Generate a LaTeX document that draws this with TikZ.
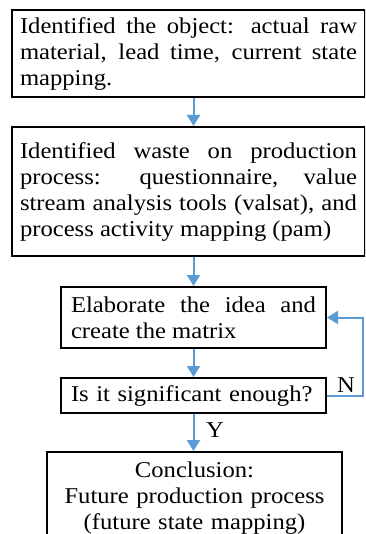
\documentclass[tikz,border=0pt]{standalone}
\usepackage{fontspec}
\setmainfont{Liberation Serif}[FakeStretch=1.09]
\usetikzlibrary{arrows.meta}
\definecolor{arrowblue}{HTML}{5B9BD5}
\begin{document}
\begin{tikzpicture}[x=1pt,y=-1pt,
  box/.style={draw=black, line width=2pt, inner ysep=0pt, font=\fontsize{22.6}{26}\selectfont},
  arr/.style={draw=arrowblue, line width=2pt, -{Triangle[width=13pt,length=11pt]}, arrowblue},
  lbl/.style={font=\fontsize{22.6}{26}\selectfont, inner sep=0pt}]
\useasboundingbox (0,0) rectangle (365,534);
\fill[white] (0,0) rectangle (365,534);
\clip (0,0) rectangle (365,534);
\hyphenpenalty=10000
\node[box, inner xsep=8pt, text width=337pt, align=justify, minimum height=87pt] (b1) at (188.5,53.5)
  {Identified the object: actual raw\linebreak material, lead time, current state\linebreak mapping.};
\node[box, inner xsep=8pt, text width=337pt, align=justify, minimum height=129pt] (b2) at (188.5,191.5)
  {Identified waste on production\linebreak process: questionnaire, value\linebreak stream analysis tools (valsat), and\linebreak process activity mapping (pam)};
\node[box, inner xsep=10pt, text width=245pt, align=justify, minimum height=61pt] (b3) at (193.5,317.5)
  {Elaborate the idea and\linebreak create the matrix};
\node[box, inner xsep=10pt, text width=245pt, align=left, minimum height=35pt] (b4) at (193.5,395.5)
  {Is it significant enough?};
\node[box, inner xsep=8pt, text width=279pt, align=center, minimum height=93pt] (b5) at (194.5,498.5)
  {Conclusion:\\ Future production process\\ (future state mapping)};
\draw[arr] (b3.north |- b1.south) -- (b3.north |- b2.north);
\draw[arr] (b3.north |- b2.south) -- (b3.north);
\draw[arr] (b3) -- (b4);
\draw[arr] (b4.south) -- (b4.south |- b5.north);
\coordinate (loop) at (363,395.5);
\draw[arr] (b4.east) -- (loop) |- (b3.east);
\node[lbl] (nlab) at (346,385) {N};
\node[lbl] (ylab) at (215,430) {Y};
\end{tikzpicture}
\end{document}
